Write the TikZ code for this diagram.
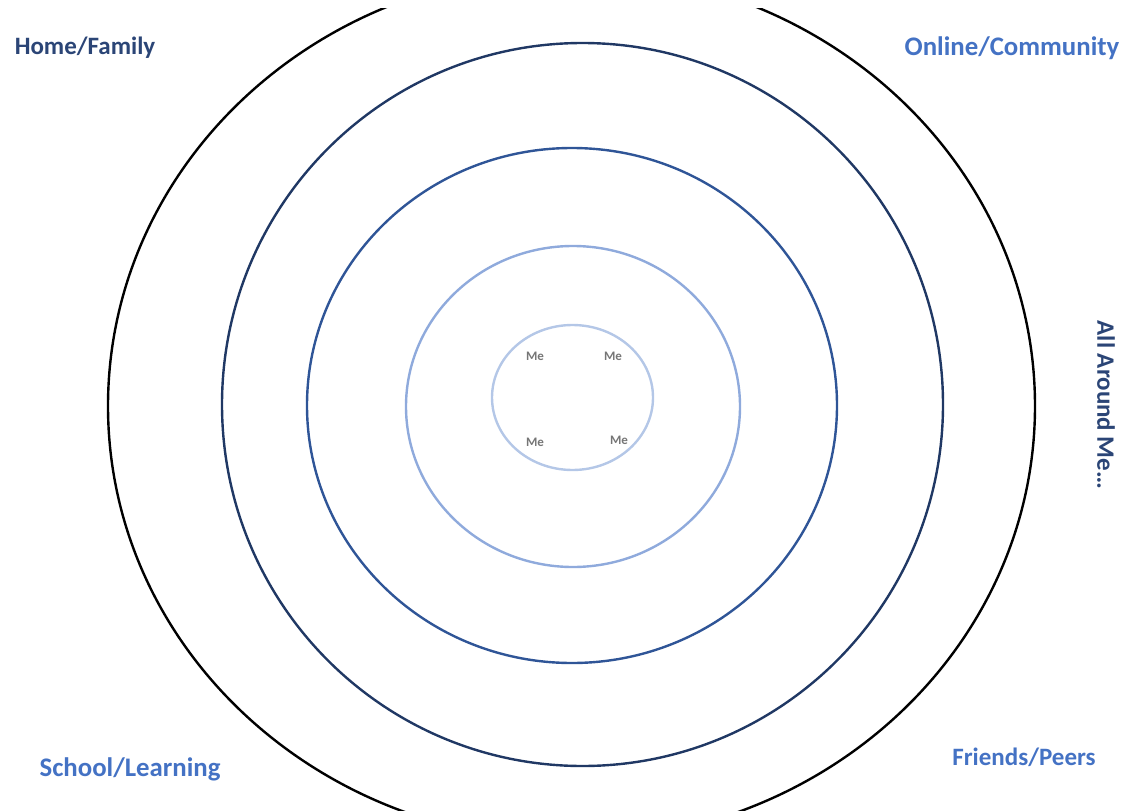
\documentclass[tikz,border=0pt]{standalone}
\usepackage{fontspec}
\setmainfont{Carlito}
\usetikzlibrary{positioning}
\definecolor{RingNavy}{RGB}{32,56,100}
\definecolor{RingBlue}{RGB}{47,85,151}
\definecolor{RingLight}{RGB}{143,170,220}
\definecolor{RingPale}{RGB}{180,199,231}
\definecolor{LabelNavy}{RGB}{43,69,118}
\definecolor{LabelBlue}{RGB}{68,114,196}
\definecolor{MeGrey}{RGB}{118,118,118}

\begin{document}
\begin{tikzpicture}[
x=1pt,y=-1pt,
ring/.style={line width=2.4pt},
area/.style={font=\fontsize{25}{28}\selectfont\bfseries,inner sep=0pt},
wide/.style={font=\fontsize{26.8}{30}\selectfont\bfseries},
me/.style={font=\fontsize{13}{14}\selectfont\bfseries,text=MeGrey,inner sep=0pt}
]
\useasboundingbox (0,0) rectangle (1125,811);
% rings, outside in
\begin{scope}
\clip (0,8) rectangle (1125,811);
\draw[ring,black] (571.5,406) ellipse (463.5 and 435);
\end{scope}
\draw[ring,RingNavy] (582.5,404.5) ellipse (360.5 and 361.5);
\draw[ring,RingBlue] (572,405.5) ellipse (265 and 257.5);
\draw[ring,RingLight] (573,406.5) ellipse (167 and 160.5);
\draw[ring,RingPale] (572.5,397.5) ellipse (80.5 and 72.5);
% corner labels
\node[area,text=LabelNavy] (home) at (85,48) {Home/Family};
\node[area,wide,text=LabelBlue] (online) at (1012,48) {Online/Community};
\node[area,wide,text=LabelBlue] (school) at (130,769) {School/Learning};
\node[area,text=LabelBlue] (friends) at (1024,757) {Friends/Peers};
\node[area,text=LabelNavy,rotate=-90] (around) at (1106,405) {All Around Me…};
% me
\node[me] (me1) at (535,356) {Me};
\node[me] (me2) at (613,356) {Me};
\node[me] (me3) at (535,442) {Me};
\node[me] (me4) at (619,440) {Me};
\end{tikzpicture}
\end{document}
